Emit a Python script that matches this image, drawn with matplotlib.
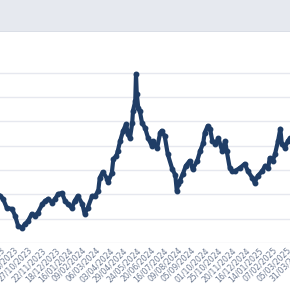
import matplotlib
matplotlib.use("Agg")
import matplotlib.pyplot as plt
from matplotlib.patches import Rectangle
import numpy as np

# trading-day index and price
day = [0, 4, 9, 16, 20, 24, 29, 33, 37, 42, 46, 50, 56, 60, 64, 69, 73, 77, 82, 86,
       90, 95, 99, 103, 109, 112, 116, 122, 126, 130, 132, 136, 142, 143, 148, 150,
       154, 156, 159, 163, 167, 169, 172, 175, 176, 179, 180, 181, 183, 185, 188,
       192, 196, 201, 202, 208, 212, 214, 218, 222, 228, 232, 234, 236, 238, 242,
       246, 251, 255, 261, 265, 269, 271, 275, 278, 281, 285, 289, 294, 298, 300,
       304, 307, 311, 318, 324, 328, 334, 337, 341, 347, 351, 355, 357, 361, 364,
       368, 371, 373, 377, 381, 384, 390]
price = [8470, 8410, 8220, 8200, 8060, 7850, 7810, 7890, 7950, 8100, 8060, 8120,
         8300, 8370, 8410, 8330, 8410, 8510, 8530, 8370, 8300, 8220, 8370, 8470,
         8300, 8100, 8220, 8470, 8470, 8570, 8840, 8960, 8820, 8760, 8940, 9230,
         9290, 9400, 9600, 9810, 9950, 9750, 9660, 9970, 10220, 10420, 10980,
         10570, 10280, 10220, 9970, 9870, 9660, 9500, 9600, 9460, 9770, 9810, 9700,
         9330, 9020, 8900, 8570, 8720, 8780, 8920, 9090, 9190, 9020, 9190, 9400,
         9560, 9770, 9910, 9850, 9600, 9540, 9660, 9400, 9600, 9400, 9050, 8980,
         8980, 9050, 9130, 8980, 8840, 8740, 8880, 8980, 9090, 9050, 9250, 9190,
         9330, 9600, 9850, 9540, 9460, 9600, 9660, 9700]

tick_labels = ["07/09/2023", "03/10/2023", "27/10/2023", "22/11/2023", "18/12/2023",
               "16/01/2024", "09/02/2024", "06/03/2024", "03/04/2024", "29/04/2024",
               "24/05/2024", "20/06/2024", "16/07/2024", "09/08/2024", "05/09/2024",
               "01/10/2024", "25/10/2024", "20/11/2024", "16/12/2024", "14/01/2025",
               "07/02/2025", "05/03/2025", "31/03/2025"]
grid_values = [7500, 8000, 8500, 9000, 9500, 10000, 10500, 11000]

W, H = 290, 290
EXTRA = 30  # axes runs past the right edge (the chart is cropped)
PX_PER_DAY = 13.6 / 18

fig = plt.figure(figsize=(W / 100, H / 100), dpi=100)
fig.patch.set_facecolor("white")

# top grey band
fig.patches.append(Rectangle((0, 1 - 31 / H), 1, 31 / H, transform=fig.transFigure,
                             facecolor="#e6e9ef", edgecolor="none", zorder=0))
fig.patches.append(Rectangle((0, 1 - 32 / H), 1, 1.2 / H, transform=fig.transFigure,
                             facecolor="#dadee6", edgecolor="none", zorder=0))

ax = fig.add_axes([0, 1 - 243 / H, (W + EXTRA) / W, (243 - 32) / H])
ax.set_facecolor("none")
for s in ax.spines.values():
    s.set_visible(False)

ax.plot(day, price, color="#1f3d66", lw=3.0, marker="o", ms=3.2,
        solid_joinstyle="round", zorder=3)

ax.set_yticks(grid_values)
ax.set_yticklabels([])
ax.set_ylim(7500, 7500 + (243 - 32) / 24.3 * 500)
ax.tick_params(axis="y", length=0)
ax.grid(axis="y", color="#e6e8ef", lw=1.0)
ax.set_axisbelow(True)

tick_pos = [9 + 18 * k for k in range(len(tick_labels))]
ax.set_xticks(tick_pos)
ax.set_xticklabels(tick_labels, rotation=45, ha="right", va="top",
                   fontsize=5.6, color="#6f7c93")
ax.set_xlim(0, (W + EXTRA) / PX_PER_DAY)
ax.tick_params(axis="x", length=0, pad=2)

fig.savefig("out.png", dpi=100)
